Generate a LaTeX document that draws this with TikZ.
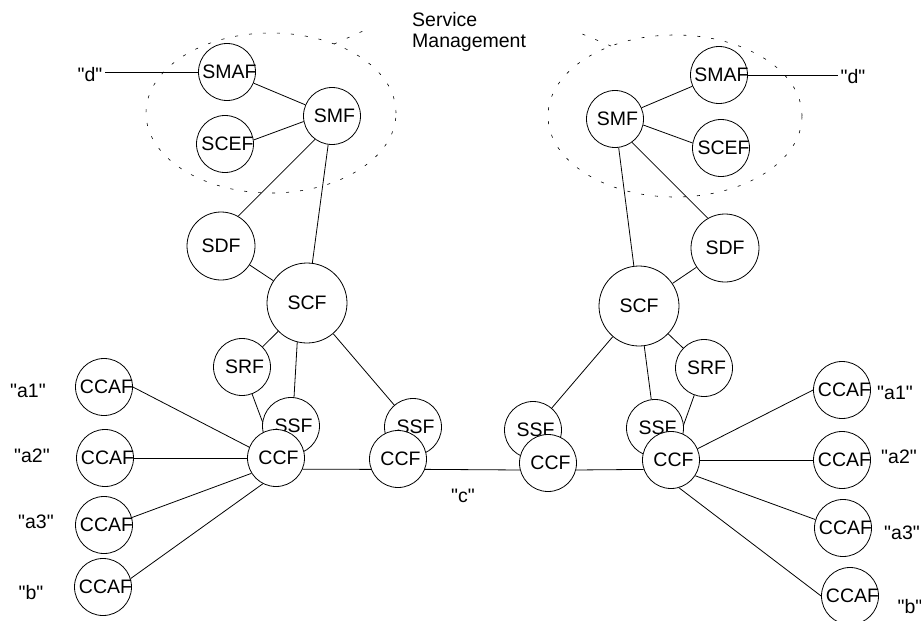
\documentclass[tikz,border=0pt]{standalone}
\usepackage{fontspec}
\setmainfont{Liberation Sans}
\newcommand\dgfont{\fontsize{19.5pt}{21pt}\selectfont}
\newcommand\qtd[1]{\textquotedbl#1\textquotedbl}
\pgfdeclarelayer{links}
\pgfsetlayers{links,main}
\begin{document}
\begin{tikzpicture}[x=1pt,y=-1pt,
  fn/.style={circle, draw, fill=white, line width=0.8pt, minimum size=57pt, inner sep=0pt,
    label={[font=\dgfont, xshift=2.5pt]center:#1}},
  bigfn/.style={circle, draw, fill=white, line width=0.8pt, inner sep=0pt,
    label={[font=\dgfont]center:#1}},
  lbl/.style={font=\dgfont, inner sep=2pt},
  link/.style={line width=0.8pt},
  mgmt/.style={line width=0.6pt, dash pattern=on 3pt off 11pt}]
\useasboundingbox (0,0) rectangle (921,621);

% service management areas
\draw[mgmt] (271,113) ellipse [x radius=125pt, y radius=80pt];
\draw[mgmt] (334,44) -- (372,27);
\draw[mgmt] (675,116) ellipse [x radius=127pt, y radius=81pt];
\draw[mgmt] (611,46) -- (575,31);
\node[lbl, align=left, anchor=north west, inner sep=0pt] (sm) at (412,12) {Service\\Management};

% left network
\node[fn=SMAF] (smafL) at (227,72) {};
\node[fn=SCEF] (scefL) at (225,144) {};
\node[fn=SMF] (smfL) at (332,116) {};
\node[bigfn=SDF, minimum size=68pt] (sdfL) at (221,246) {};
\node[bigfn=SCF, minimum size=80pt] (scfL) at (307,303) {};
\node[fn=SRF] (srfL) at (242,367) {};
\node[fn=SSF] (ssfA) at (291,426) {};
\node[fn=SSF] (ssfB) at (413,427) {};
\node[fn=CCF] (ccfA) at (276,458) {};
\node[fn=CCF] (ccfB) at (398,459) {};
\node[fn=CCAF] (caL1) at (104,387) {};
\node[fn=CCAF] (caL2) at (105,458) {};
\node[fn=CCAF] (caL3) at (104,525) {};
\node[fn=CCAF] (caL4) at (103,587) {};

% right network
\node[fn=SMAF] (smafR) at (719,75) {};
\node[fn=SMF] (smfR) at (615,119) {};
\node[fn=SCEF] (scefR) at (721,148) {};
\node[bigfn=SDF, minimum size=68pt] (sdfR) at (725,248) {};
\node[bigfn=SCF, minimum size=80pt] (scfR) at (639,306) {};
\node[fn=SRF] (srfR) at (704,368) {};
\node[fn=SSF] (ssfC) at (533,430) {};
\node[fn=SSF] (ssfD) at (655,428) {};
\node[fn=CCF] (ccfC) at (548,463) {};
\node[fn=CCF] (ccfD) at (671,460) {};
\node[fn=CCAF] (caR1) at (842,390) {};
\node[fn=CCAF] (caR2) at (842,460) {};
\node[fn=CCAF] (caR3) at (843,528) {};
\node[fn=CCAF] (caR4) at (850,596) {};

% reference point labels
\node[lbl] (dL) at (90,75) {\qtd{d}};
\node[lbl] (dR) at (853,77) {\qtd{d}};
\node[lbl] (a1L) at (28,391) {\qtd{a1}};
\node[lbl] (a2L) at (32,456) {\qtd{a2}};
\node[lbl] (a3L) at (36,522) {\qtd{a3}};
\node[lbl] (bL) at (31,593) {\qtd{b}};
\node[lbl] (a1R) at (895,393) {\qtd{a1}};
\node[lbl] (a2R) at (899,457) {\qtd{a2}};
\node[lbl] (a3R) at (902,533) {\qtd{a3}};
\node[lbl] (bR) at (910,607) {\qtd{b}};
\node[lbl] (c) at (463,496) {\qtd{c}};

\begin{pgfonlayer}{links}
  % left side
  \draw[link] (smafL.west) -- (smafL.west -| dL.east);
  \draw[link] (smafL) -- (smfL);
  \draw[link] (scefL.8) -- (smfL.191);
  \draw[link] (smfL.234) -- (sdfL.60);
  \draw[link] (smfL) -- (scfL);
  \draw[link] (sdfL) -- (scfL);
  \draw[link] (scfL) -- (srfL);
  \draw[link] (scfL.256) -- (ssfA.84);
  \draw[link] (scfL) -- (ssfB);
  \draw[link] (srfL) -- (ccfA);
  \draw[link] (caL1.0) -- (ccfA.158);
  \draw[link] (caL2) -- (ccfA);
  \draw[link] (caL3.15) -- (ccfA.212);
  \draw[link] (caL4.17) -- (ccfA.243);
  % call control chain
  \draw[link] (ccfA.-23) -- (ccfB.201);
  \draw[link] (ccfB.-21) -- (ccfC.194);
  \draw[link] (ccfC.-14) -- (ccfD.199);
  % right side
  \draw[link] (smafR.east) -- (smafR.east -| dR.west);
  \draw[link] (smfR) -- (smafR);
  \draw[link] (smfR.-12) -- (scefR.170);
  \draw[link] (smfR.-54) -- (sdfR.120);
  \draw[link] (smfR) -- (scfR);
  \draw[link] (sdfR) -- (scfR);
  \draw[link] (scfR) -- (srfR);
  \draw[link] (scfR) -- (ssfD);
  \draw[link] (scfR) -- (ssfC);
  \draw[link] (srfR) -- (ccfD);
  \draw[link] (ccfD.23) -- (caR1.180);
  \draw[link] (ccfD) -- (caR2);
  \draw[link] (ccfD.-33) -- (caR3.163);
  \draw[link] (ccfD.-74) -- (caR4.180);
\end{pgfonlayer}
\end{tikzpicture}
\end{document}
